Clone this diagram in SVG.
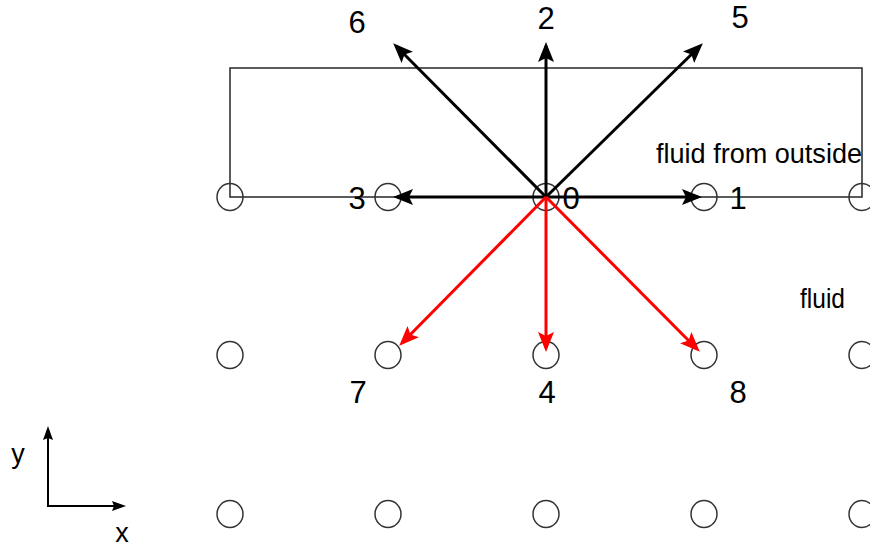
<svg xmlns="http://www.w3.org/2000/svg" width="870" height="548" viewBox="0 0 870 548">
<style>
text{font-family:"Liberation Sans",Arial,sans-serif;font-size:31px;fill:#000}
.lbl{text-anchor:middle}
.node{fill:none;stroke:#333;stroke-width:1.5}
.box{fill:none;stroke:#333;stroke-width:1.6}
.blk{stroke:#000;stroke-width:3;fill:none}
.red{stroke:#ff0000;stroke-width:3;fill:none}
.ax{stroke:#000;stroke-width:2;fill:none}
</style>
<defs>
<marker id="ab" markerUnits="userSpaceOnUse" markerWidth="22" markerHeight="18" refX="16" refY="8" orient="auto"><path d="M0,0 L20,8 L0,16 L4,8 z" fill="#000"/></marker>
<marker id="ar" markerUnits="userSpaceOnUse" markerWidth="22" markerHeight="18" refX="16" refY="8" orient="auto"><path d="M0,0 L20,8 L0,16 L4,8 z" fill="#ff0000"/></marker>
<marker id="aa" markerUnits="userSpaceOnUse" markerWidth="16" markerHeight="12" refX="11" refY="5" orient="auto"><path d="M0,0 L14,5 L0,10 L2,5 z" fill="#000"/></marker>
</defs>
<rect class="box" x="230" y="68" width="632" height="129"/>
<g id="nodes">
<g id="n-r0c0"><ellipse class="node" cx="230" cy="197" rx="13" ry="13.5"/></g>
<g id="n3"><ellipse class="node" cx="388" cy="197" rx="13" ry="13.5"/></g>
<g id="n0"><ellipse class="node" cx="546" cy="197" rx="13" ry="13.5"/></g>
<g id="n1"><ellipse class="node" cx="704" cy="197" rx="13" ry="13.5"/></g>
<g id="n-r0c4"><ellipse class="node" cx="862" cy="197" rx="13" ry="13.5"/></g>
<g id="n-r1c0"><ellipse class="node" cx="230" cy="355" rx="13" ry="13.5"/></g>
<g id="n7"><ellipse class="node" cx="388" cy="355" rx="13" ry="13.5"/></g>
<g id="n4"><ellipse class="node" cx="546" cy="355" rx="13" ry="13.5"/></g>
<g id="n8"><ellipse class="node" cx="704" cy="355" rx="13" ry="13.5"/></g>
<g id="n-r1c4"><ellipse class="node" cx="862" cy="355" rx="13" ry="13.5"/></g>
<g id="n-r2c0"><ellipse class="node" cx="230" cy="514" rx="13" ry="13.5"/></g>
<g id="n-r2c1"><ellipse class="node" cx="388" cy="514" rx="13" ry="13.5"/></g>
<g id="n-r2c2"><ellipse class="node" cx="546" cy="514" rx="13" ry="13.5"/></g>
<g id="n-r2c3"><ellipse class="node" cx="704" cy="514" rx="13" ry="13.5"/></g>
<g id="n-r2c4"><ellipse class="node" cx="862" cy="514" rx="13" ry="13.5"/></g>
</g>
<g id="connectors">
<line class="blk" x1="546" y1="197" x2="396" y2="46" marker-end="url(#ab)"/>
<line class="blk" x1="546" y1="197" x2="546" y2="46" marker-end="url(#ab)"/>
<line class="blk" x1="546" y1="197" x2="700" y2="46" marker-end="url(#ab)"/>
<line class="blk" x1="546" y1="197" x2="397" y2="197" marker-end="url(#ab)"/>
<line class="blk" x1="546" y1="197" x2="698" y2="197" marker-end="url(#ab)"/>
<line class="red" x1="546" y1="197" x2="402" y2="343" marker-end="url(#ar)"/>
<line class="red" x1="546" y1="197" x2="546" y2="348" marker-end="url(#ar)"/>
<line class="red" x1="546" y1="197" x2="697" y2="349" marker-end="url(#ar)"/>
<line class="ax" x1="48" y1="506" x2="48" y2="429" marker-end="url(#aa)"/>
<line class="ax" x1="47" y1="506" x2="123" y2="506" marker-end="url(#aa)"/>
</g>
<g id="labels">
<text class="lbl" x="357" y="33">6</text>
<text class="lbl" x="546" y="29">2</text>
<text class="lbl" x="740" y="28">5</text>
<text class="lbl" x="357" y="209">3</text>
<text class="lbl" x="571" y="209">0</text>
<text class="lbl" x="738" y="209">1</text>
<text class="lbl" x="358" y="403">7</text>
<text class="lbl" x="547" y="403">4</text>
<text class="lbl" x="738" y="403">8</text>
<text x="656" y="163" textLength="206" lengthAdjust="spacingAndGlyphs" style="font-size:27px">fluid from outside</text>
<text x="800" y="308" textLength="45" lengthAdjust="spacingAndGlyphs" style="font-size:28px">fluid</text>
<text class="lbl" x="18" y="463" style="font-size:27px">y</text>
<text class="lbl" x="122" y="542" style="font-size:27px">x</text>
</g>
</svg>
